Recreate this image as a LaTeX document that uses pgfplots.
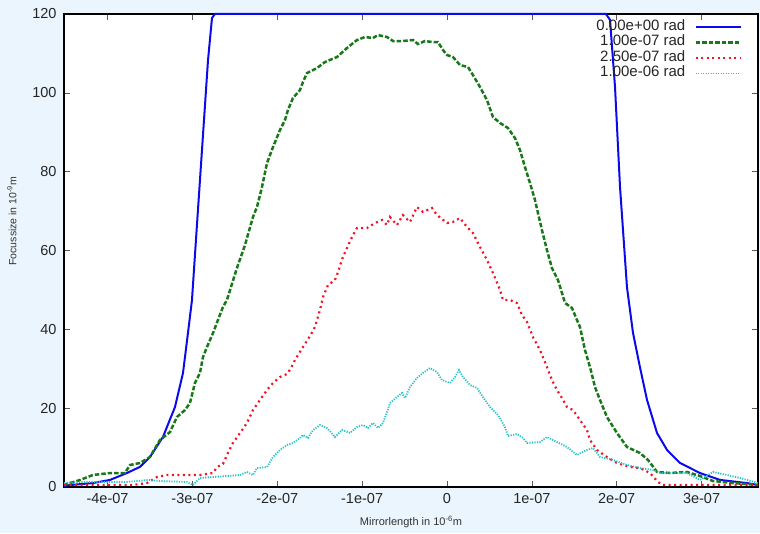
\documentclass[border=0pt]{standalone}
\usepackage{pgfplots}
\pgfplotsset{compat=1.18}
\usepackage{pgfplotstable}
\usepackage{fontspec}
\setmainfont{Liberation Sans}
\definecolor{bgblue}{RGB}{234,245,253}
\definecolor{cblue}{RGB}{10,10,235}
\definecolor{cgreen}{RGB}{25,120,25}
\definecolor{cred}{RGB}{240,20,40}
\definecolor{ccyan}{RGB}{40,195,200}

% x in units of 1e-7 m, y focus size in 1e-9 m
\pgfplotstableread{
x y
-4.513 0.25
-4.443 0.5
-4.172 1.0
-3.970 1.8
-3.771 3.55
-3.618 5.1
-3.500 7.6
-3.347 12.7
-3.205 20.3
-3.111 28.9
-3.052 39.1
-3.005 47.4
-2.958 62.7
-2.887 85.5
-2.816 108.3
-2.769 119.0
-2.734 120
1.874 120
1.921 118.5
1.980 101.5
2.039 76.1
2.121 50.7
2.192 39.1
2.274 30.4
2.357 22.1
2.475 13.7
2.593 9.4
2.746 6.1
2.981 3.55
3.217 1.8
3.535 1.0
3.665 0.5
}\tblA

\pgfplotstableread{
x y
-4.513 0.51
-4.325 1.78
-4.172 3.04
-3.971 3.55
-3.794 3.55
-3.736 5.58
-3.618 6.09
-3.500 7.61
-3.382 11.92
-3.264 13.95
-3.182 17.76
-3.087 19.53
-3.029 21.31
-2.970 26.38
-2.911 28.92
-2.875 32.98
-2.828 35.52
-2.757 39.07
-2.699 42.36
-2.640 45.66
-2.593 47.44
-2.475 55.56
-2.380 61.39
-2.286 68.49
-2.239 71.03
-2.180 76.10
-2.121 82.19
-2.050 86.25
-1.968 90.56
-1.909 93.10
-1.874 95.64
-1.815 98.68
-1.732 100.71
-1.697 102.74
-1.650 105.02
-1.532 106.29
-1.438 107.81
-1.296 109.08
-1.178 111.37
-1.061 113.40
-0.966 114.16
-0.872 113.90
-0.813 114.66
-0.707 114.16
-0.636 113.14
-0.519 113.14
-0.401 113.40
-0.342 112.38
-0.259 113.14
-0.177 112.89
-0.106 112.89
-0.047 110.86
0.000 109.59
0.071 109.08
0.153 107.05
0.247 106.54
0.306 104.52
0.389 101.47
0.471 98.17
0.542 93.86
0.625 92.34
0.719 91.07
0.801 88.53
0.860 85.49
0.919 81.18
0.978 77.12
1.037 72.81
1.072 69.51
1.119 65.20
1.178 60.12
1.237 55.56
1.308 52.51
1.355 49.21
1.391 46.68
1.473 45.41
1.532 42.36
1.567 40.59
1.626 34.75
1.685 30.44
1.744 25.37
1.803 22.07
1.885 17.76
2.003 13.70
2.121 10.15
2.274 8.63
2.369 6.85
2.475 3.81
2.628 3.55
2.828 3.81
2.981 2.79
3.135 1.52
3.370 1.01
3.665 0.51
}\tblB

\pgfplotstableread{
x y
-4.513 0.51
-4.207 0.51
-3.700 0.51
-3.535 1.01
-3.417 2.54
-3.300 3.04
-2.911 3.04
-2.757 3.55
-2.710 5.07
-2.640 5.83
-2.581 8.63
-2.522 11.16
-2.439 13.70
-2.357 16.24
-2.286 19.53
-2.204 22.07
-2.121 24.61
-2.050 26.38
-1.968 27.90
-1.885 28.67
-1.838 30.19
-1.791 32.22
-1.697 35.51
-1.614 38.31
-1.556 40.59
-1.497 44.90
-1.461 48.20
-1.402 51.24
-1.320 52.51
-1.284 54.54
-1.226 58.35
-1.178 60.63
-1.119 63.42
-1.061 65.70
-0.943 65.70
-0.848 66.97
-0.766 67.73
-0.707 66.46
-0.672 68.49
-0.589 66.46
-0.519 69.00
-0.436 67.22
-0.354 71.03
-0.283 69.76
-0.177 70.78
-0.118 69.00
0.000 66.97
0.071 67.22
0.153 68.24
0.236 65.96
0.306 64.43
0.389 60.88
0.471 57.59
0.542 54.29
0.625 49.97
0.660 47.44
0.742 47.44
0.825 46.68
0.884 43.63
0.943 41.86
1.013 38.05
1.096 34.75
1.178 30.44
1.237 27.14
1.296 24.61
1.355 22.58
1.414 20.29
1.485 19.53
1.567 17.00
1.650 14.46
1.685 11.92
1.768 9.39
1.885 7.61
2.003 6.09
2.157 5.07
2.274 4.82
2.392 3.55
2.486 1.27
2.545 0.51
2.981 0.51
3.665 0.51
}\tblC

\pgfplotstableread{
x y
-4.513 1.01
-4.325 1.27
-4.007 1.27
-3.771 1.27
-3.523 1.78
-3.382 1.52
-3.064 1.27
-2.993 0.51
-2.911 2.28
-2.593 2.79
-2.439 3.04
-2.357 3.81
-2.286 3.04
-2.239 4.82
-2.121 5.07
-2.050 7.61
-1.968 9.39
-1.885 10.65
-1.815 11.16
-1.732 12.43
-1.697 13.19
-1.638 12.43
-1.579 14.46
-1.497 15.73
-1.414 14.97
-1.320 12.68
-1.237 14.46
-1.143 13.70
-1.061 15.22
-0.990 15.73
-0.931 14.97
-0.872 16.24
-0.813 14.97
-0.754 16.24
-0.707 19.03
-0.672 21.31
-0.589 22.83
-0.530 23.85
-0.495 22.58
-0.436 25.37
-0.354 27.65
-0.283 28.92
-0.200 30.19
-0.118 29.17
-0.059 27.14
0.035 26.38
0.094 27.90
0.141 29.68
0.189 27.90
0.271 25.87
0.354 25.11
0.424 22.83
0.507 20.29
0.601 18.26
0.683 15.22
0.719 12.94
0.825 13.44
0.896 12.43
0.943 11.16
1.096 11.42
1.178 12.68
1.296 11.42
1.414 10.15
1.532 8.12
1.650 9.39
1.720 9.89
1.803 7.61
1.956 6.85
2.121 5.58
2.274 4.82
2.427 4.31
2.510 3.55
2.663 3.55
2.828 3.55
2.981 1.78
3.135 3.81
3.300 3.04
3.453 2.28
3.665 1.01
}\tblD

\begin{document}
\begin{tikzpicture}[x=1pt,y=1pt]
\fill[bgblue] (0,0) rectangle (760,533);
\begin{axis}[
  at={(64pt,46pt)}, anchor=south west,
  scale only axis, width=694pt, height=473pt,
  xmin=-4.513, xmax=3.665, ymin=0, ymax=120,
  clip=false,
  axis background/.style={fill=white},
  axis line style={line width=1.4pt, black},
  tick align=inside, major tick length=6pt,
  tick style={line width=0.6pt, gray!70!black},
  xtick={-4,-3,-2,-1,0,1,2,3},
  xticklabels={-4e-07,-3e-07,-2e-07,-1e-07,0,1e-07,2e-07,3e-07},
  ytick={0,20,40,60,80,100,120},
  yticklabels={0,20,40,60,80,100,120},
  ticklabel style={font=\fontsize{14.5}{16}\selectfont, text=black!85},
  yticklabel style={xshift=-4pt},
  xticklabel style={yshift=-3pt},
  xlabel={Mirrorlength in 10\textsuperscript{-6}m},
  ylabel={Focussize in 10\textsuperscript{-9}m},
  every axis x label/.style={at={(rel axis cs:0.5,-0.074)}, anchor=center, font=\fontsize{11}{12}\selectfont, text=black!80},
  every axis y label/.style={at={(rel axis cs:-0.075,0.562)}, anchor=center, rotate=90, font=\fontsize{10.5}{12}\selectfont, text=black!80},
  legend cell align=right,
  legend plot pos=right,
  legend image code/.code={\draw[#1] (0pt,0pt) -- (45pt,0pt);},
  legend style={at={(rel axis cs:1,1)}, xshift=-16pt, yshift=-5pt, anchor=north east,
    draw=none, fill=none, inner sep=0pt, row sep=0pt, column sep=9pt,
    font=\fontsize{15}{15}\selectfont, text=black!85,
    nodes={inner sep=0pt, text height=11pt, text depth=4.5pt}},
]
\addplot[cblue, line width=2pt] table[x=x,y=y] {\tblA};
\addlegendentry{0.00e+00 rad}
\addplot[cgreen, line width=2.5pt, dash pattern=on 4.5pt off 2pt] table[x=x,y=y] {\tblB};
\addlegendentry{1.00e-07 rad}
\addplot[cred, line width=2.2pt, dash pattern=on 2pt off 3.5pt] table[x=x,y=y] {\tblC};
\addlegendentry{2.50e-07 rad}
\addplot[ccyan, line width=1.8pt, dash pattern=on 1.2pt off 1.3pt] table[x=x,y=y] {\tblD};
\addlegendentry{1.00e-06 rad}
\end{axis}
\end{tikzpicture}
\end{document}
